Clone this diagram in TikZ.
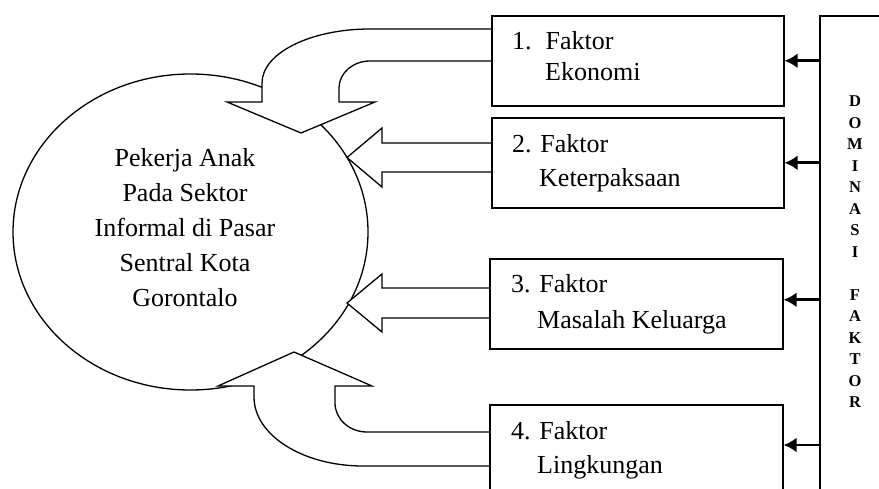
\documentclass[tikz,border=0pt]{standalone}
\usepackage{fontspec}
\setmainfont{Liberation Serif}
\usetikzlibrary{shapes.geometric,arrows.meta,calc}
\begin{document}
\begin{tikzpicture}[x=1pt,y=1pt,
  factorbox/.style={draw, line width=1.6pt, anchor=north west, inner sep=0pt},
  blockarrow/.style={draw, fill=white, line width=1.3pt, line join=miter},
  domarrow/.style={line width=2.6pt, -{Latex[length=13pt,width=15pt]}},
  bigtext/.style={font=\fontsize{26}{35}\selectfont, inner sep=0pt},
  ftext/.style={font=\fontsize{26}{35}\selectfont, anchor=base west, inner sep=0pt},
]
\useasboundingbox (0,0) rectangle (879,-489);
\clip (0,0) rectangle (879,-489);
% central ellipse
\node[draw, ellipse, line width=1.3pt, minimum width=355pt, minimum height=316pt, inner sep=0pt] (c) at (190.5,-232) {};
\node[bigtext, align=center] (ct) at (185,-228) {Pekerja Anak\\Pada Sektor\\Informal di Pasar\\Sentral Kota\\Gorontalo};
% block arrows
\path[blockarrow] (491,-29) -- (370,-29) arc[start angle=90, end angle=180, x radius=108, y radius=54]
  -- (262,-102) -- (227,-102) -- (301,-133) -- (375,-102) -- (339,-102) -- (339,-88)
  arc[start angle=180, end angle=90, x radius=31, y radius=27] -- (491,-61);
\path[blockarrow] (491,-143) -- (382,-143) -- (382,-128) -- (347,-157.5) -- (382,-187) -- (382,-172) -- (491,-172);
\path[blockarrow] (490,-288) -- (382,-288) -- (382,-274) -- (347,-303) -- (382,-332) -- (382,-318) -- (490,-318);
\path[blockarrow] (490,-432) -- (367,-432) arc[start angle=270, end angle=180, x radius=32, y radius=29]
  -- (335,-386) -- (372,-386) -- (294,-352) -- (218,-386) -- (254,-386) -- (254,-397)
  arc[start angle=180, end angle=270, x radius=109, y radius=69] -- (490,-466);
% factor boxes
\node[factorbox, minimum width=292pt, minimum height=90pt] (f1) at (491,-15) {};
\node[factorbox, minimum width=292pt, minimum height=90pt] (f2) at (491,-117) {};
\node[factorbox, minimum width=293pt, minimum height=90pt] (f3) at (489,-258) {};
\node[factorbox, minimum width=293pt, minimum height=130pt] (f4) at (489,-404) {};
\node[ftext] (t1a) at (512,-50) {1.\hspace{14pt}Faktor};
\node[ftext] (t1b) at (545,-81) {Ekonomi};
\node[ftext] (t2a) at (512,-153) {2. Faktor};
\node[ftext] (t2b) at (539,-187) {Keterpaksaan};
\node[ftext] (t3a) at (511,-293) {3. Faktor};
\node[ftext] (t3b) at (537,-329) {Masalah Keluarga};
\node[ftext] (t4a) at (511,-439) {4. Faktor};
\node[ftext] (t4b) at (537,-473) {Lingkungan};
% right box
\node[draw, line width=1.6pt, anchor=north west, minimum width=100pt, minimum height=520pt, inner sep=0pt] (rb) at (819,-15) {};
\node[font=\bfseries\fontsize{16.5}{21.5}\selectfont, align=center, inner sep=0pt] (dom) at (855,-252) {D\\O\\M\\I\\N\\A\\S\\I\\[21.5pt]F\\A\\K\\T\\O\\R};
% dominance arrows
\draw[domarrow] (rb.west |- f1.east) -- (f1.east);
\draw[domarrow] (rb.west |- f2.east) -- (f2.east);
\draw[domarrow] ($(rb.west |- f3.east)+(0,4)$) -- ($(f3.east)+(0,4)$);
\draw[domarrow] (rb.west |- 0,-445) -- (f4.east |- 0,-445);
\end{tikzpicture}
\end{document}
